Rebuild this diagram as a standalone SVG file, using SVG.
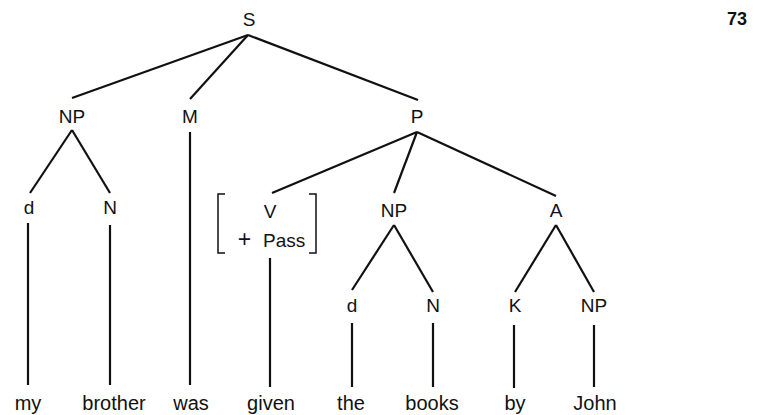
<svg xmlns="http://www.w3.org/2000/svg" width="757" height="415" viewBox="0 0 757 415">
<style>
text{font-family:"Liberation Sans",Arial,sans-serif;font-size:19px;fill:#111;text-anchor:middle}
.w{font-size:20px}
.pg{font-size:18px;font-weight:bold}
#edges line{stroke:#111;stroke-width:2.2;stroke-linecap:butt}
.br{fill:none;stroke:#111;stroke-width:1.5}
</style>
<rect width="757" height="415" fill="#fff"/>
<g id="edges">
<line x1="248" y1="35" x2="72" y2="98"/>
<line x1="248" y1="35" x2="190" y2="99"/>
<line x1="248" y1="35" x2="418" y2="100"/>
<line x1="72" y1="130" x2="30" y2="193"/>
<line x1="72" y1="130" x2="110" y2="193"/>
<line x1="190" y1="132" x2="190" y2="385"/>
<line x1="417" y1="132" x2="272" y2="193"/>
<line x1="417" y1="132" x2="394" y2="193"/>
<line x1="417" y1="132" x2="556" y2="196"/>
<line x1="28" y1="223" x2="28" y2="385"/>
<line x1="110" y1="225" x2="110" y2="385"/>
<line x1="270" y1="258" x2="270" y2="387"/>
<line x1="394" y1="225" x2="352" y2="290"/>
<line x1="394" y1="225" x2="433" y2="292"/>
<line x1="556" y1="225" x2="515" y2="292"/>
<line x1="556" y1="225" x2="594" y2="292"/>
<line x1="352" y1="323" x2="352" y2="387"/>
<line x1="433" y1="323" x2="433" y2="387"/>
<line x1="514" y1="325" x2="514" y2="388"/>
<line x1="594" y1="325" x2="594" y2="387"/>
</g>
<g id="page"><text class="pg" x="737" y="25">73</text></g>
<g id="S"><text x="249" y="26">S</text></g>
<g id="NP1"><text x="72" y="123">NP</text></g>
<g id="M"><text x="190" y="123">M</text></g>
<g id="P"><text x="417" y="123">P</text></g>
<g id="d1"><text x="29" y="214">d</text></g>
<g id="N1"><text x="110" y="214">N</text></g>
<g id="V">
<path class="br" d="M225,194 H218 V253 H225"/>
<path class="br" d="M309,194 H316 V253 H309"/>
<text x="270" y="218">V</text>
<text x="244.5" y="247"><tspan font-size="23">+</tspan><tspan x="281.5"> Pass</tspan></text>
</g>
<g id="NP2"><text x="394" y="217">NP</text></g>
<g id="A"><text x="556" y="217">A</text></g>
<g id="d2"><text x="352" y="312">d</text></g>
<g id="N2"><text x="433" y="312">N</text></g>
<g id="K"><text x="515" y="312">K</text></g>
<g id="NP3"><text x="594" y="312">NP</text></g>
<g id="words">
<text class="w" x="28" y="410">my</text>
<text class="w" x="114" y="410">brother</text>
<text class="w" x="191" y="410">was</text>
<text class="w" x="271" y="410">given</text>
<text class="w" x="351" y="410">the</text>
<text class="w" x="432" y="410">books</text>
<text class="w" x="515" y="410">by</text>
<text class="w" x="595" y="410">John</text>
</g>
</svg>
